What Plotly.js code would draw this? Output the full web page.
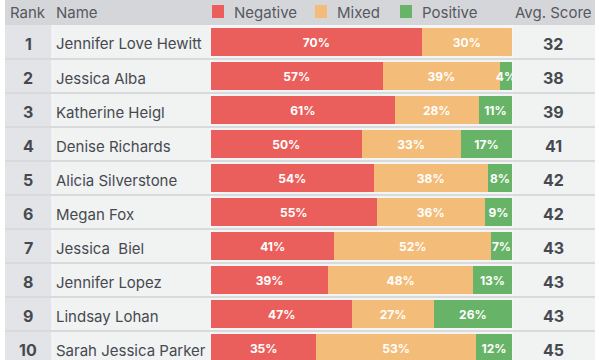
<!DOCTYPE html>
<html>
<head>
<meta charset="utf-8">
<script src="https://cdn.plot.ly/plotly-3.0.1.min.js"></script>
<style>html,body{margin:0;padding:0;background:#fff;}#chart{width:600px;height:360px;}</style>
</head>
<body>
<div id="chart"></div>
<script>
var ranks = [1, 2, 3, 4, 5, 6, 7, 8, 9, 10];
var names = ["Jennifer Love Hewitt", "Jessica Alba", "Katherine Heigl", "Denise Richards",
  "Alicia Silverstone", "Megan Fox", "Jessica  Biel", "Jennifer Lopez", "Lindsay Lohan",
  "Sarah Jessica Parker"];
var negative = [70, 57, 61, 50, 54, 55, 41, 39, 47, 35];
var mixed    = [30, 39, 28, 33, 38, 36, 52, 48, 27, 53];
var positive = [0, 4, 11, 17, 8, 9, 7, 13, 26, 12];
var avgScore = [32, 38, 39, 41, 42, 42, 43, 43, 43, 45];
var seriesNames = ["Negative", "Mixed", "Positive"];
var seriesColors = ["#ea5f5b", "#f3bc78", "#67b368"];

var W = 600, H = 360;
function px(x) { return x / W; }
function py(y) { return 1 - y / H; }

var FONT = "Inter, Roboto, sans-serif";
var labels = names.map(function (n) { return n.replace(/  /g, " \u00a0"); });

function mk(vals, i) {
  return {
    type: "bar", orientation: "h", name: seriesNames[i],
    x: vals, y: labels,
    marker: { color: seriesColors[i], line: { width: 0 } },
    text: vals.map(function (v) { return v > 0 ? v + "%" : ""; }),
    textposition: "inside", insidetextanchor: "middle", textangle: 0,
    textfont: { color: "#ffffff", size: 12, family: FONT, weight: "bold" },
    hoverinfo: "skip", width: 0.85, showlegend: false
  };
}
var traces = [mk(negative, 0), mk(mixed, 1), mk(positive, 2)];

var shapes = [];
function rect(x0, y0, x1, y1, c) {
  shapes.push({ type: "rect", xref: "paper", yref: "paper", x0: px(x0), x1: px(x1), y0: py(y1), y1: py(y0),
    fillcolor: c, line: { width: 0 }, layer: "below" });
}
rect(5, 0, 595, 25, "#d5d6d9");
rect(5, 25, 52, 360, "#e2e4e8");
rect(52, 25, 211, 360, "#f1f2f2");
rect(211, 25, 512, 360, "#f4f4f4");
rect(512, 25, 595, 360, "#f1f2f2");
[52, 211, 512].forEach(function (x) {
  shapes.push({ type: "line", xref: "paper", yref: "paper", x0: px(x), x1: px(x), y0: 0, y1: py(25),
    line: { color: "#fafafa", width: 1 }, layer: "below" });
});
for (var i = 0; i < ranks.length; i++) {
  shapes.push({ type: "line", xref: "paper", yref: "y", x0: px(5), x1: px(595), y0: i + 0.5, y1: i + 0.5,
    line: { color: "#d9dadc", width: 2 }, layer: "below" });
}

var annotations = [];
ranks.forEach(function (r, i) {
  annotations.push({ xref: "paper", yref: "y", x: px(28), y: labels[i], yshift: -2, text: String(r), showarrow: false,
    xanchor: "center", yanchor: "middle", font: { family: FONT, size: 16, color: "#464a50", weight: "bold" } });
  annotations.push({ xref: "paper", yref: "y", x: px(54), y: labels[i], yshift: -2, text: labels[i], showarrow: false,
    xanchor: "left", yanchor: "middle", font: { family: FONT, size: 15, color: "#464a50" } });
  annotations.push({ xref: "paper", yref: "y", x: px(553), y: labels[i], yshift: -2, text: String(avgScore[i]), showarrow: false,
    xanchor: "center", yanchor: "middle", font: { family: FONT, size: 16, color: "#464a50", weight: "bold" } });
});
var hy = py(12.5);
annotations.push({ xref: "paper", yref: "paper", x: px(28), y: hy, text: "Rank", showarrow: false,
  xanchor: "center", yanchor: "middle", font: { family: FONT, size: 15, color: "#55595f" } });
annotations.push({ xref: "paper", yref: "paper", x: px(54), y: hy, text: "Name", showarrow: false,
  xanchor: "left", yanchor: "middle", font: { family: FONT, size: 15, color: "#55595f" } });
annotations.push({ xref: "paper", yref: "paper", x: px(553), y: hy, text: "Avg. Score", showarrow: false,
  xanchor: "center", yanchor: "middle", font: { family: FONT, size: 15, color: "#55595f" } });
var legX = [212, 315, 400];
seriesNames.forEach(function (s, i) {
  var x0 = legX[i];
  shapes.push({ type: "rect", xref: "paper", yref: "paper", x0: px(x0), x1: px(x0 + 12), y0: py(18), y1: py(5),
    fillcolor: seriesColors[i], line: { width: 0 } });
  annotations.push({ xref: "paper", yref: "paper", x: px(x0 + 20), y: hy, text: s, showarrow: false,
    xanchor: "left", yanchor: "middle", font: { family: FONT, size: 15, color: "#55595f" } });
});

var layout = {
  width: W, height: H,
  margin: { l: 0, r: 0, t: 0, b: 0, pad: 0 },
  paper_bgcolor: "#ffffff", plot_bgcolor: "rgba(0,0,0,0)",
  barmode: "stack", bargap: 0,
  uniformtext: { minsize: 12, mode: "show" },
  xaxis: { domain: [px(211), px(512)], range: [0, 100], visible: false, fixedrange: true },
  yaxis: { domain: [0, py(25)], type: "category", range: [9.353, -0.5], visible: false, fixedrange: true },
  shapes: shapes, annotations: annotations, showlegend: false
};
Plotly.newPlot("chart", traces, layout, { displayModeBar: false, staticPlot: true });
</script>
</body>
</html>
